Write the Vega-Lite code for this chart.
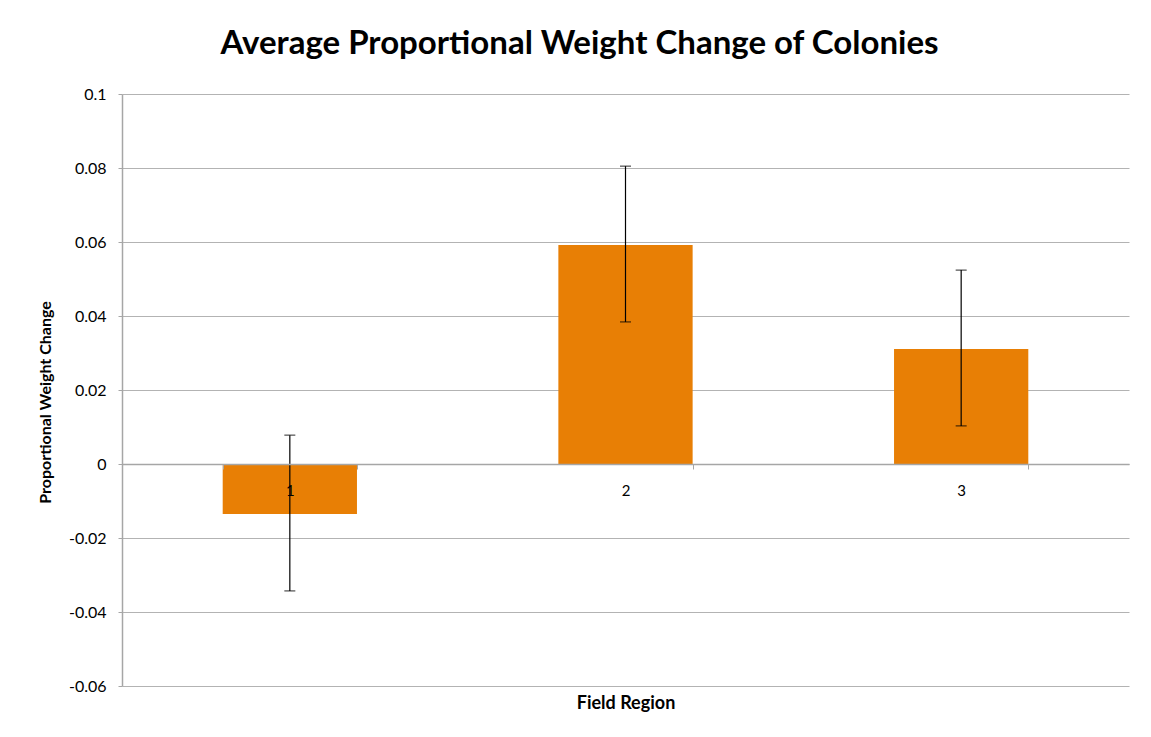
{
  "$schema": "https://vega.github.io/schema/vega-lite/v6.json",
  "autosize": {"type": "none"},
  "width": 1007,
  "height": 592,
  "padding": {"left": 122, "top": 94, "right": 22, "bottom": 51},
  "background": "white",
  "title": {
    "text": "Average Proportional Weight Change of Colonies",
    "font": "Lato",
    "fontSize": 33,
    "fontWeight": "bold",
    "color": "#000000",
    "anchor": "middle",
    "frame": "group",
    "dx": -46,
    "offset": 25
  },
  "data": {
    "values": [
      {"region": "1", "mean": -0.0135, "lo": -0.0343, "hi": 0.0078},
      {"region": "2", "mean": 0.0592, "lo": 0.0384, "hi": 0.0805},
      {"region": "3", "mean": 0.0311, "lo": 0.0103, "hi": 0.0524}
    ]
  },
  "encoding": {
    "x": {
      "field": "region",
      "type": "nominal",
      "scale": {"paddingInner": 0.6, "paddingOuter": 0.3},
      "axis": {
        "title": "Field Region",
        "titleFont": "Lato",
        "titleFontSize": 18,
        "titleFontWeight": "bold",
        "titleColor": "#000000",
        "titleY": 239,
        "titleBaseline": "middle",
        "labelAngle": 0,
        "labelFont": "Lato",
        "labelFontSize": 15,
        "labelColor": "#000000",
        "labelPadding": 14,
        "tickBand": "extent",
        "tickSize": 5,
        "tickColor": "#a6a6a6",
        "domainColor": "#a6a6a6",
        "domainWidth": 1.5,
        "offset": -222,
        "zindex": 1
      }
    }
  },
  "layer": [
    {
      "mark": {"type": "bar", "color": "#E87F05"},
      "encoding": {
        "y": {
          "field": "mean",
          "type": "quantitative",
          "scale": {"domain": [-0.06, 0.1], "nice": false, "zero": false},
          "axis": {
            "title": "Proportional Weight Change",
            "titleFont": "Lato",
            "titleFontSize": 16,
            "titleFontWeight": "bold",
            "titleColor": "#000000",
            "titleX": -69,
            "titleY": 308,
            "values": [-0.06, -0.04, -0.02, 0, 0.02, 0.04, 0.06, 0.08, 0.1],
            "labelExpr": "'' + datum.value",
            "labelFont": "Lato",
            "labelFontSize": 16,
            "labelColor": "#000000",
            "labelPadding": 12,
            "tickSize": 4,
            "tickColor": "#a6a6a6",
            "domainColor": "#a6a6a6",
            "domainWidth": 1.5,
            "gridColor": "#b3b3b3",
            "gridWidth": 1.2,
            "grid": true
          }
        }
      }
    },
    {
      "mark": {"type": "rule", "color": "#000000", "strokeWidth": 1.2},
      "encoding": {
        "y": {"field": "lo", "type": "quantitative"},
        "y2": {"field": "hi"}
      }
    },
    {
      "mark": {"type": "tick", "orient": "horizontal", "color": "#000000", "size": 11, "thickness": 1.2},
      "encoding": {"y": {"field": "lo", "type": "quantitative"}}
    },
    {
      "mark": {"type": "tick", "orient": "horizontal", "color": "#000000", "size": 11, "thickness": 1.2},
      "encoding": {"y": {"field": "hi", "type": "quantitative"}}
    }
  ],
  "config": {"view": {"stroke": null}}
}
